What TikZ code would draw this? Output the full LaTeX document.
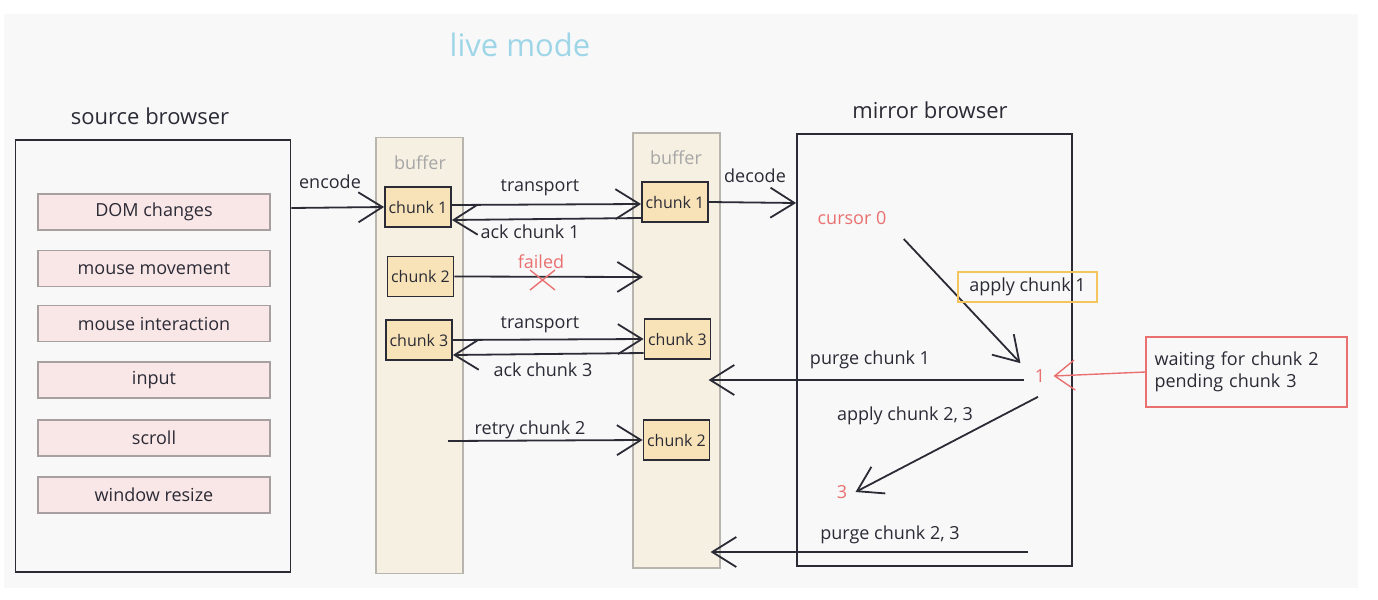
\documentclass[tikz,border=0pt]{standalone}
\usepackage{fontspec}
\setmainfont{Open Sans}
\usetikzlibrary{arrows.meta,patterns}
\definecolor{ink}{HTML}{2B2B36}
\definecolor{panel}{HTML}{F8F8F9}
\definecolor{livec}{HTML}{9ED6E8}
\definecolor{itemfill}{HTML}{F9E6E6}
\definecolor{itemdraw}{HTML}{A8A0A0}
\definecolor{buffill}{HTML}{F6F0E2}
\definecolor{bufdraw}{HTML}{B8B4AE}
\definecolor{chunkfill}{HTML}{F8E3B8}
\definecolor{redc}{HTML}{EA7070}
\definecolor{yelc}{HTML}{F4C55D}
\begin{document}
\begin{tikzpicture}[x=0.5pt,y=-0.5pt,
  lbl/.style={font=\fontsize{9}{11}\selectfont, text=ink, inner sep=1pt},
  title/.style={font=\fontsize{11}{13}\selectfont, text=ink},
  browser/.style={draw=ink, line width=0.9pt, minimum width=137.5pt, minimum height=216pt},
  itembox/.style={draw=itemdraw, fill=itemfill, line width=0.6pt, minimum width=116pt, minimum height=18pt, font=\fontsize{9}{11}\selectfont, text=ink},
  bufbox/.style={draw=bufdraw, fill=buffill, line width=0.6pt, minimum width=43.5pt, minimum height=218pt},
  buflbl/.style={font=\fontsize{9}{11}\selectfont, text=gray!70},
  chunkbox/.style={draw=ink, fill=chunkfill, line width=0.9pt, minimum width=33pt, minimum height=20pt, inner sep=0.5pt, font=\fontsize{8}{10}\selectfont, text=ink},
  arr/.style={draw=ink, line width=0.9pt, -{Straight Barb[length=12pt,width=15pt,line width=0.9pt]}},
  redarr/.style={draw=redc, line width=0.7pt, -{Straight Barb[length=10pt,width=15pt,line width=0.7pt]}},
  redtxt/.style={font=\fontsize{9}{11}\selectfont, text=redc, inner sep=1pt}
]
\useasboundingbox (0,0) rectangle (1378,600);
\fill[white] (0,0) rectangle (1378,600);
\fill[panel] (4,14) rectangle (1358,588);

% title
\node[font=\fontsize{15.5}{18}\selectfont, text=livec] (live) at (520,45) {live mode};

% source browser
\node[title] (srct) at (150,116) {source browser};
\node[browser] (sb) at (153,356) {};
\node[itembox] (i1) at (154,212) {DOM changes};
\node[itembox] (i2) at (154,268.5) {mouse movement};
\node[itembox] (i3) at (154,323.5) {mouse interaction};
\node[itembox] (i4) at (154,380) {input};
\node[itembox] (i5) at (154,438) {scroll};
\node[itembox] (i6) at (154,495) {window resize};

% buffers
\node[bufbox] (buf1) at (419.5,355.5) {};
\node[buflbl] (b1t) at (420,163) {buffer};
\node[bufbox, minimum height=217.5pt] (buf2) at (676.5,350.5) {};
\node[buflbl] (b2t) at (676,158) {buffer};

\node[chunkbox] (c1L) at (418,207) {chunk 1};
\node[chunkbox] (c2L) at (420.5,276.5) {chunk 2};
\node[chunkbox] (c3L) at (419,340) {chunk 3};
\node[chunkbox] (c1R) at (675,202) {chunk 1};
\node[chunkbox] (c3R) at (677.5,339) {chunk 3};
\node[chunkbox] (c2R) at (676.5,440) {chunk 2};

% mirror browser
\node[title] (mirt) at (930,110) {mirror browser};
\node[browser] (mb) at (934.5,350) {};

% encode
\draw[arr] ([yshift=74pt]sb.east) -- (c1L.west);
\node[lbl] (enc) at (330,182) {encode};

% chunk 1 transport / ack
\draw[arr] ([yshift=1pt]c1L.east) -- ([yshift=-1pt]c1R.west);
\node[lbl] (tr1) at (540,188) {transport};
\draw[arr] ([yshift=-8pt]c1R.west) -- ([yshift=-6.5pt]c1L.east);
\node[lbl] (ack1) at (530,232) {ack chunk 1};

% chunk 2 failed
\coordinate (failend) at (643,277);
\draw[arr] (c2L.east) -- (failend);
\node[redtxt] (failed) at (541,262) {failed};
\draw[redc, line width=0.7pt] (530,270) -- (555,290) (555,270) -- (530,290);

% chunk 3 transport / ack
\draw[arr] (c3L.east) -- (c3R.west);
\node[lbl] (tr3) at (540,325) {transport};
\draw[arr] ([yshift=-7pt]c3R.west) -- ([yshift=-7.5pt]c3L.east);
\node[lbl] (ack3) at (543,370) {ack chunk 3};

% retry
\coordinate (retrys) at (448,441);
\draw[arr] (retrys) -- (c2R.west);
\node[lbl] (retry) at (530,430) {retry chunk 2};

% decode
\draw[arr] (c1R.east) -- ([yshift=73.5pt]mb.west);
\node[lbl] (dec) at (755,176) {decode};

% mirror contents
\node[redtxt] (cur0) at (852,218) {cursor 0};
\node[redtxt] (one) at (1040,376) {1};
\node[redtxt] (three) at (842,492) {3};

\draw[arr] ([shift={(7.5pt,-6pt)}]cur0.south east) -- ([shift={(-6pt,2pt)}]one.north west);
\node[draw=yelc, line width=0.7pt, minimum width=69.5pt, minimum height=15pt, lbl] (ap1) at (1027.5,287) {apply chunk 1};

\draw[arr] ([shift={(-4pt,-2pt)}]one.west) -- ([shift={(-6pt,-14.75pt)}]buf2.east);
\node[lbl] (pg1) at (870,360) {purge chunk 1};

\draw[arr] ([shift={(-1pt,-6pt)}]one.south) -- ([xshift=3pt]three.east);
\node[lbl] (ap23) at (905,416) {apply chunk 2, 3};

\coordinate (p23s) at (1028,552);
\draw[arr] (p23s) -- ([shift={(-5pt,-100.75pt)}]buf2.east);
\node[lbl] (pg23) at (890,535) {purge chunk 2, 3};

% waiting box
\node[draw=redc, line width=0.7pt, minimum width=100.5pt, minimum height=35pt, align=left, lbl, text width=92pt] (wait) at (1246.5,372) {waiting for chunk 2\\pending chunk 3};
\draw[redarr] (wait.west) -- ([xshift=3pt]one.east);
\end{tikzpicture}
\end{document}
